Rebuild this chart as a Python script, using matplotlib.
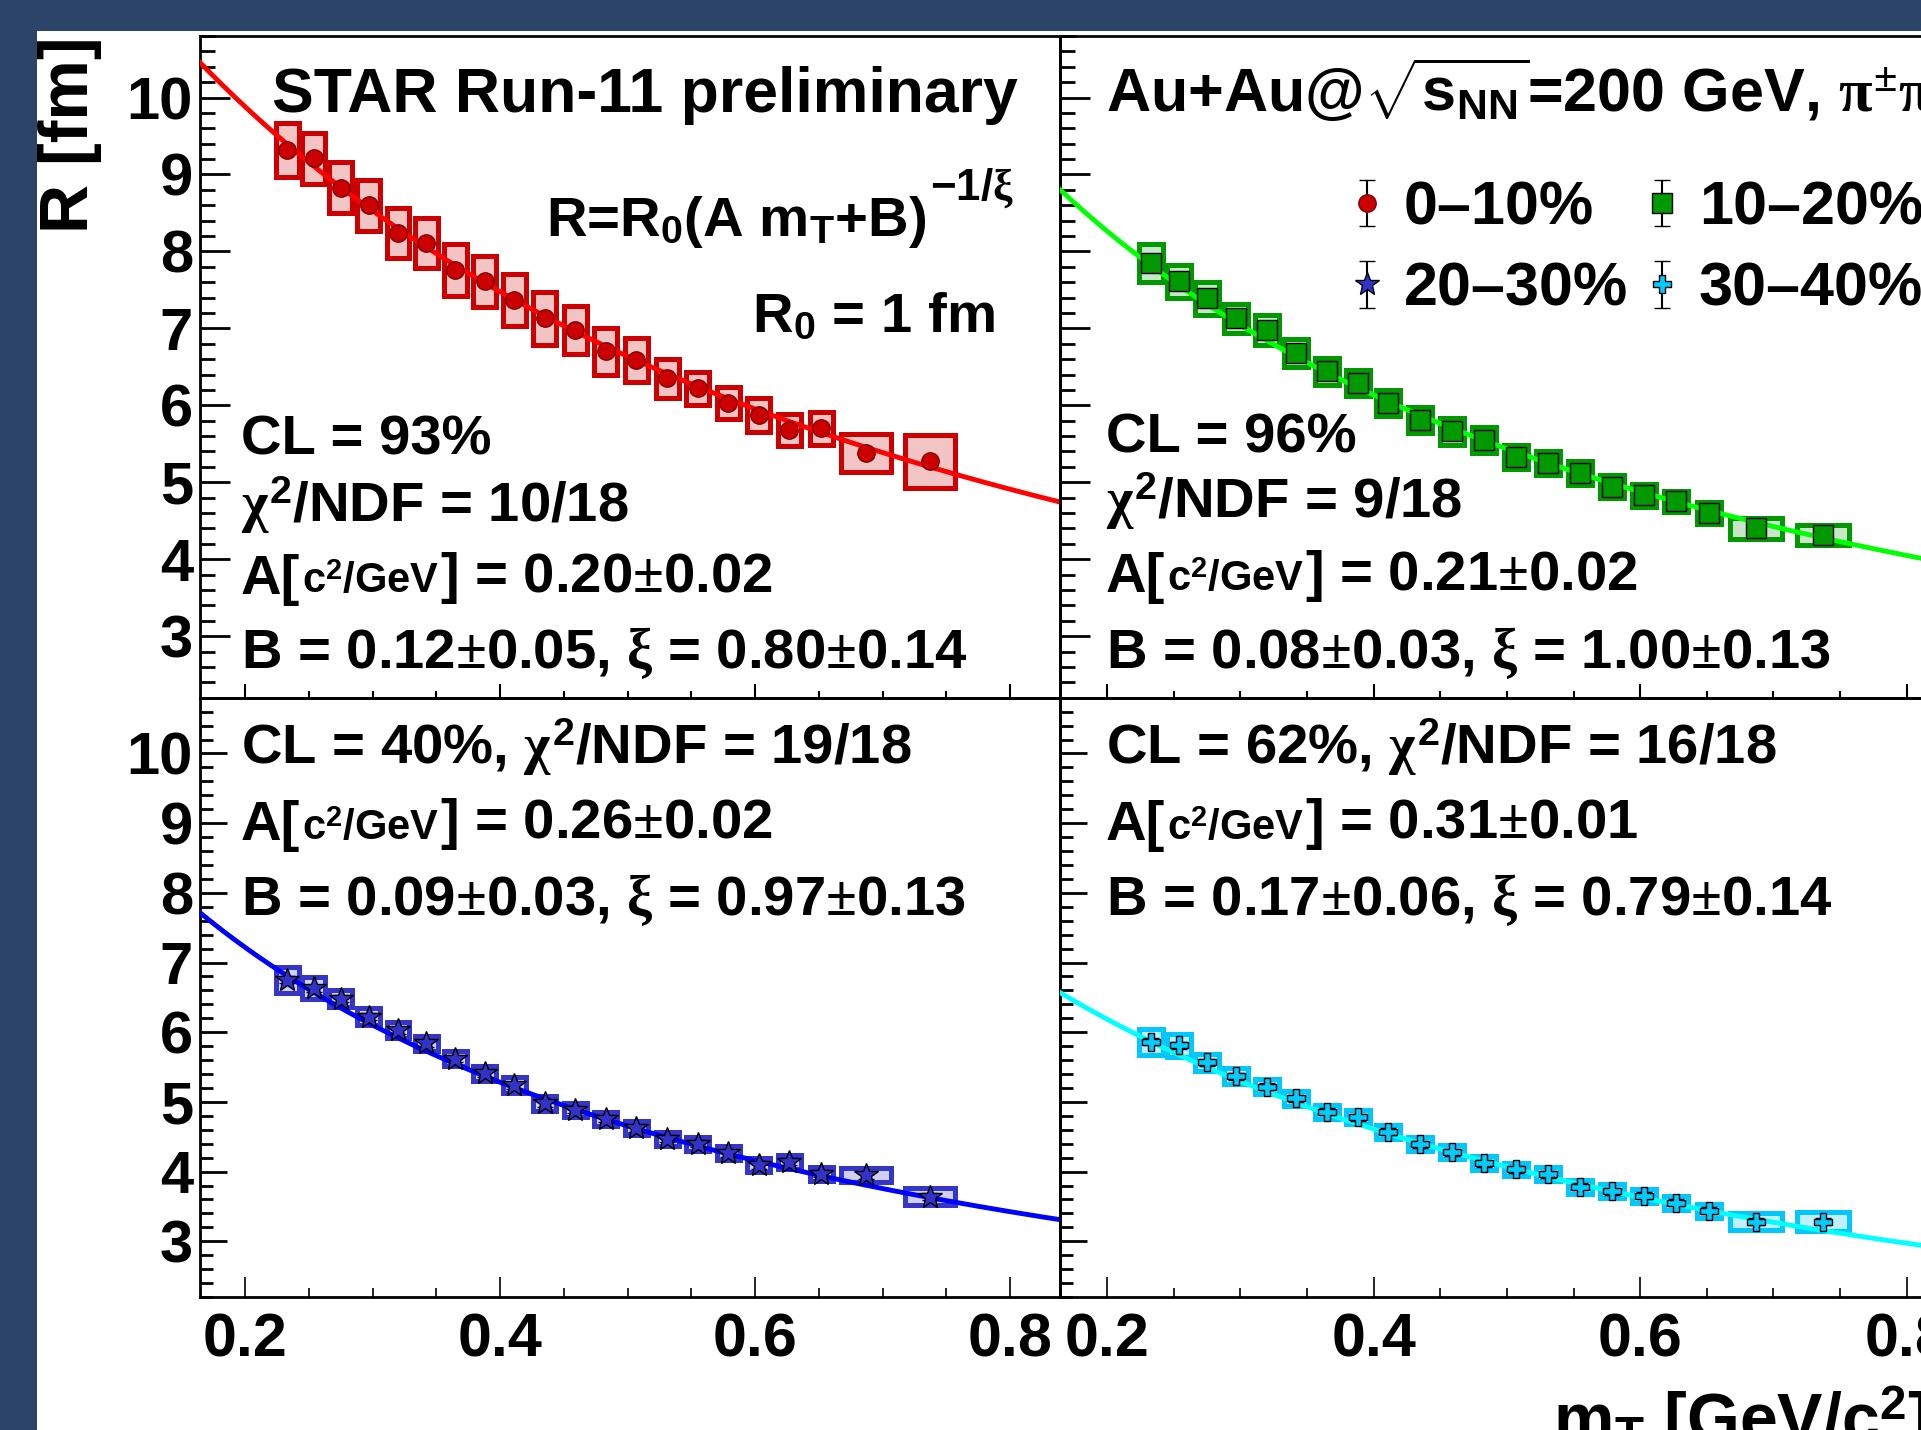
import numpy as np
import matplotlib
matplotlib.use('Agg')
import matplotlib.pyplot as plt
import matplotlib.ticker as ticker
from matplotlib.patches import Rectangle
from matplotlib.container import ErrorbarContainer
from matplotlib.legend_handler import HandlerErrorbar

plt.rcParams['font.family'] = ['Liberation Sans', 'DejaVu Sans']
plt.rcParams['font.weight'] = 'bold'
plt.rcParams['mathtext.fontset'] = 'custom'
plt.rcParams['mathtext.rm'] = 'Liberation Sans:bold'
plt.rcParams['mathtext.bf'] = 'Liberation Sans:bold'
plt.rcParams['mathtext.sf'] = 'Liberation Sans:bold'
plt.rcParams['mathtext.it'] = 'Liberation Serif'
plt.rcParams['mathtext.tt'] = 'Liberation Serif'

# m_T bin centres [GeV/c^2] and half widths of the systematic boxes
mT = [0.233, 0.254, 0.275, 0.297, 0.320, 0.342, 0.365, 0.388, 0.411, 0.435, 0.459,
      0.483, 0.507, 0.531, 0.555, 0.579, 0.603, 0.627, 0.652, 0.687, 0.737]
box_hw = [0.009] * 19 + [0.0195, 0.0195]
stat_err = [0.05, 0.05, 0.05, 0.05, 0.05, 0.05, 0.05, 0.05, 0.05, 0.05, 0.05,
            0.05, 0.05, 0.05, 0.05, 0.05, 0.05, 0.05, 0.05, 0.05, 0.05]

# 0-10%
R_0_10 = [9.32, 9.21, 8.83, 8.60, 8.24, 8.11, 7.76, 7.61, 7.37, 7.13, 6.98,
          6.70, 6.59, 6.35, 6.22, 6.03, 5.87, 5.68, 5.70, 5.38, 5.27]
sys_0_10 = [0.35, 0.33, 0.33, 0.33, 0.32, 0.33, 0.34, 0.33, 0.34, 0.34, 0.31,
            0.31, 0.29, 0.25, 0.21, 0.21, 0.22, 0.21, 0.21, 0.25, 0.34]
# 10-20%
R_10_20 = [7.85, 7.61, 7.39, 7.13, 6.98, 6.68, 6.44, 6.29, 6.03, 5.81, 5.66,
           5.55, 5.33, 5.25, 5.12, 4.94, 4.83, 4.75, 4.60, 4.40, 4.31]
sys_10_20 = [0.25, 0.21, 0.21, 0.19, 0.19, 0.18, 0.18, 0.17, 0.17, 0.17, 0.17,
             0.17, 0.16, 0.16, 0.16, 0.15, 0.15, 0.14, 0.14, 0.14, 0.13]
# 20-30%
R_20_30 = [6.75, 6.63, 6.48, 6.22, 6.03, 5.84, 5.62, 5.41, 5.24, 4.98, 4.89,
           4.76, 4.62, 4.47, 4.40, 4.26, 4.09, 4.14, 3.97, 3.95, 3.64]
sys_20_30 = [0.19, 0.16, 0.12, 0.12, 0.12, 0.11, 0.11, 0.11, 0.11, 0.11, 0.10,
             0.10, 0.10, 0.10, 0.10, 0.10, 0.10, 0.10, 0.10, 0.10, 0.12]
# 30-40%
R_30_40 = [5.86, 5.81, 5.57, 5.37, 5.22, 5.05, 4.86, 4.78, 4.57, 4.39, 4.28,
           4.12, 4.03, 3.96, 3.78, 3.72, 3.65, 3.55, 3.44, 3.28, 3.28]
sys_30_40 = [0.19, 0.17, 0.12, 0.11, 0.11, 0.11, 0.10, 0.10, 0.10, 0.10, 0.10,
             0.10, 0.10, 0.10, 0.10, 0.10, 0.10, 0.10, 0.10, 0.12, 0.14]

# fit parameters A, B, xi of R = (A mT + B)^(-1/xi)
fit_0_10 = (0.20, 0.12, 0.80)
fit_10_20 = (0.21, 0.079, 1.00)
fit_20_30 = (0.26, 0.095, 0.97)
fit_30_40 = (0.31, 0.175, 0.79)

XMIN, XMAX = 0.1647, 0.8392
YMIN, YMAX = 2.2, 10.8
FS = 40.5
PM = r'$\mathtt{\pm}$'

W, H = 1921, 1430
fig = plt.figure(figsize=(W / 100, H / 100), dpi=100, facecolor='#2c4468')
fig.patches.append(Rectangle((37 / W, 0), 1, 1 - 31 / H, transform=fig.transFigure,
                             facecolor='white', edgecolor='none', zorder=-10))


def px_axes(x0, y0, x1, y1):
    return fig.add_axes([x0 / W, 1 - y1 / H, (x1 - x0) / W, (y1 - y0) / H])


def style_axes(ax, top, left):
    ax.set_facecolor('none')
    ax.set_xlim(XMIN, XMAX)
    ax.set_ylim(YMIN, YMAX)
    ax.xaxis.set_major_locator(ticker.MultipleLocator(0.2))
    ax.xaxis.set_minor_locator(ticker.MultipleLocator(0.05))
    ax.yaxis.set_major_locator(ticker.MultipleLocator(1))
    ax.yaxis.set_minor_locator(ticker.MultipleLocator(0.2))
    for s in ax.spines.values():
        s.set_linewidth(2)
    if top:
        ax.tick_params(axis='y', which='major', length=21.6, width=2)
        ax.tick_params(axis='y', which='minor', length=10.8, width=2)
        ax.tick_params(axis='x', which='major', length=10, width=1.5)
        ax.tick_params(axis='x', which='minor', length=5, width=1.5)
    else:
        ax.tick_params(axis='y', which='major', length=19.5, width=2)
        ax.tick_params(axis='y', which='minor', length=9.4, width=2)
        ax.tick_params(axis='x', which='major', length=14.4, width=1.2)
        ax.tick_params(axis='x', which='minor', length=6.5, width=1.2)
    ax.tick_params(which='both', direction='in', top=False, right=False)
    ax.tick_params(axis='y', labelsize=43, pad=5, labelleft=left)
    ax.tick_params(axis='x', labelsize=44, pad=11, labelbottom=not top)


def draw_series(ax, y, sys, pars, edge, fill, line, marker, mfc, mec, ms):
    for xi, yi, si, wi in zip(mT, y, sys, box_hw):
        ax.add_patch(Rectangle((xi - wi, yi - si), 2 * wi, 2 * si, facecolor=fill,
                               edgecolor=edge, lw=3.6, zorder=2))
    A, B, xi = pars
    xx = np.linspace(XMIN, XMAX, 300)
    ax.plot(xx, (A * xx + B) ** (-1.0 / xi), color=line, lw=3.5, zorder=3)
    return ax.errorbar(mT, y, yerr=stat_err, fmt=marker, ms=ms, mfc=mfc, mec=mec, mew=1,
                       ecolor='black', elinewidth=1.5, capsize=6, capthick=1.5, zorder=4)


def a_line(ax, x, y, txt):
    t1 = ax.text(x, y, 'A[', transform=ax.transAxes, fontsize=FS, va='baseline')
    t2 = ax.annotate(r'c$^{2}$/GeV', xy=(1, 0), xycoords=t1, xytext=(1, 2.5),
                     textcoords='offset points', fontsize=FS * 0.74, va='bottom')
    ax.annotate(txt, xy=(1, 0), xycoords=t2, xytext=(1, -2.5),
                textcoords='offset points', fontsize=FS, va='bottom')


ax_tl = px_axes(200, 36, 1060, 697.7)
ax_tr = px_axes(1060, 36, 1959, 697.7)
ax_bl = px_axes(200, 697.7, 1060, 1297)
ax_br = px_axes(1060, 697.7, 1959, 1297)
style_axes(ax_tl, True, True)
style_axes(ax_tr, True, False)
style_axes(ax_bl, False, True)
style_axes(ax_br, False, False)

eb_r = draw_series(ax_tl, R_0_10, sys_0_10, fit_0_10, '#cc0000', '#f2c4c4', '#ff0000',
                   'o', '#cc0000', '#800000', 12.5)
eb_g = draw_series(ax_tr, R_10_20, sys_10_20, fit_10_20, '#009a00', '#c8e6c8', '#00ff00',
                   's', '#009900', 'black', 15)
eb_b = draw_series(ax_bl, R_20_30, sys_20_30, fit_20_30, '#3535c8', '#d0d0f2', '#0000ff',
                   '*', '#3333cc', 'black', 18)
eb_c = draw_series(ax_br, R_30_40, sys_30_40, fit_30_40, '#00c8ff', '#c0f0ff', '#00ffff',
                   'P', '#00ccff', 'black', 13)

# top left texts
ax_tl.text(0.0837, 0.885, 'STAR Run-11 preliminary', transform=ax_tl.transAxes, fontsize=45)
t_f = ax_tl.text(0.402, 0.698, r'R=R$_{0}$(A m$_{\mathrm{T}}$+B)',
                 transform=ax_tl.transAxes, fontsize=FS)
ax_tl.annotate(r'$-$1/$\xi$', xy=(1, 1), xycoords=t_f, xytext=(3, 20),
               textcoords='offset points', fontsize=FS * 0.78, va='top')
ax_tl.text(0.642, 0.553, r'R$_{0}$ = 1 fm', transform=ax_tl.transAxes, fontsize=FS)
ax_tl.text(0.0477, 0.368, 'CL = 93%', transform=ax_tl.transAxes, fontsize=FS)
ax_tl.text(0.0477, 0.266, r'$\chi^{2}$/NDF = 10/18', transform=ax_tl.transAxes, fontsize=FS)
a_line(ax_tl, 0.0477, 0.157, '] = 0.20' + PM + '0.02')
ax_tl.text(0.0477, 0.045, 'B = 0.12' + PM + r'0.05, $\xi$ = 0.80' + PM + '0.14',
           transform=ax_tl.transAxes, fontsize=FS)

# top right texts
ax_tr.text(0.0512, 0.885,
           r'Au+Au@$\sqrt{\mathrm{s}_{\mathrm{NN}}}$=200 GeV, $\pi^{\mathtt{\pm}}\pi^{\mathtt{\pm}}$',
           transform=ax_tr.transAxes, fontsize=44)
ax_tr.text(0.0512, 0.370, 'CL = 96%', transform=ax_tr.transAxes, fontsize=FS)
ax_tr.text(0.0512, 0.272, r'$\chi^{2}$/NDF = 9/18', transform=ax_tr.transAxes, fontsize=FS)
a_line(ax_tr, 0.0512, 0.160, '] = 0.21' + PM + '0.02')
ax_tr.text(0.0512, 0.045, 'B = 0.08' + PM + r'0.03, $\xi$ = 1.00' + PM + '0.13',
           transform=ax_tr.transAxes, fontsize=FS)

# bottom left texts
ax_bl.text(0.0477, 0.889, r'CL = 40%, $\chi^{2}$/NDF = 19/18', transform=ax_bl.transAxes, fontsize=FS)
a_line(ax_bl, 0.0477, 0.762, '] = 0.26' + PM + '0.02')
ax_bl.text(0.0477, 0.637, 'B = 0.09' + PM + r'0.03, $\xi$ = 0.97' + PM + '0.13',
           transform=ax_bl.transAxes, fontsize=FS)

# bottom right texts
ax_br.text(0.0512, 0.889, r'CL = 62%, $\chi^{2}$/NDF = 16/18', transform=ax_br.transAxes, fontsize=FS)
a_line(ax_br, 0.0512, 0.762, '] = 0.31' + PM + '0.01')
ax_br.text(0.0512, 0.637, 'B = 0.17' + PM + r'0.06, $\xi$ = 0.79' + PM + '0.14',
           transform=ax_br.transAxes, fontsize=FS)

ax_tr.legend([eb_r, eb_b, eb_g, eb_c], ['0–10%', '20–30%', '10–20%', '30–40%'],
             ncol=2, loc='upper left', bbox_to_anchor=(0.325, 0.782), frameon=False,
             fontsize=44, handlelength=0.5, handletextpad=0.35, columnspacing=0.3,
             labelspacing=0.4, borderpad=0, borderaxespad=0,
             handler_map={ErrorbarContainer: HandlerErrorbar(yerr_size=0.38)})

fig.text(70 / W, 1 - 36 / H, 'R [fm]', rotation=90, ha='center', va='top', fontsize=49)
fig.text(1553 / W, 1 - 1385 / H, r'm$_{\mathrm{T}}$ [GeV/c$^{2}$]', ha='left', va='top', fontsize=49)

fig.savefig('out.png', dpi=100, facecolor=fig.get_facecolor())
